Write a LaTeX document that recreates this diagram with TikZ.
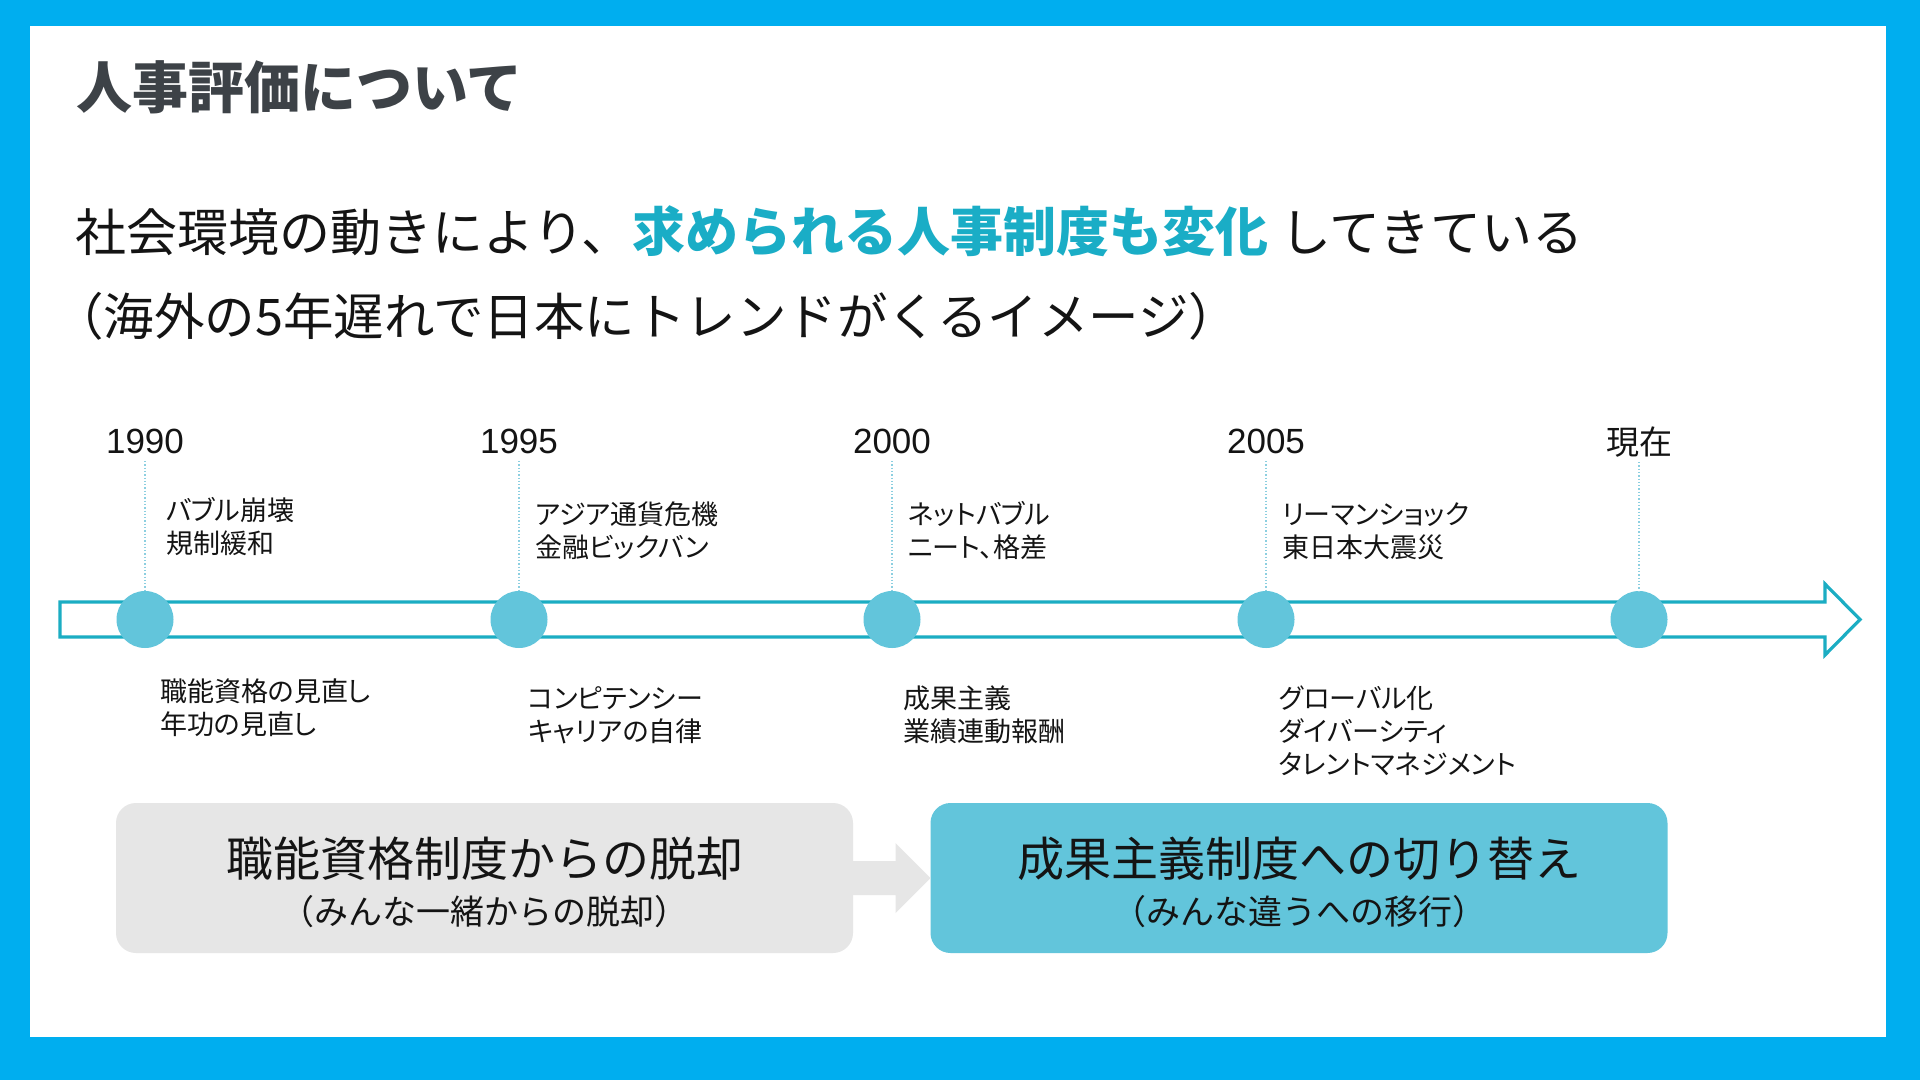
\documentclass[tikz,border=0pt]{standalone}
\usepackage{fontspec}
\setmainfont{Noto Sans CJK JP}
\newfontfamily\jpprop{Noto Sans CJK JP}[RawFeature=+palt]
\newfontfamily\latinfont{Liberation Sans}
\usetikzlibrary{calc}
\definecolor{frameblue}{HTML}{00AEEF}
\definecolor{tlline}{HTML}{1BADC3}
\definecolor{dotc}{HTML}{8CCFE0}
\definecolor{circc}{HTML}{62C5DB}
\definecolor{hl}{HTML}{1AADC6}
\definecolor{boxgray}{HTML}{E6E6E6}
\definecolor{titlegray}{HTML}{3D4247}
\definecolor{ink}{HTML}{141414}
\begin{document}
\begin{tikzpicture}[x=1pt,y=-1pt,
  every node/.style={inner sep=0pt,outer sep=0pt,text=ink},
  yearlbl/.style={anchor=base,font=\latinfont\fontsize{35}{38}\selectfont},
  evt/.style={anchor=base west,font=\jpprop\fontsize{27}{30}\selectfont},
  dot/.style={circle,fill=circc,minimum size=57pt},
  dotline/.style={draw=dotc,line width=1.3pt,dotted},
  bigbox/.style={rounded corners=20pt,minimum width=737pt,minimum height=150pt},
  boxmain/.style={anchor=base,font=\fontsize{47}{50}\selectfont},
  boxsub/.style={anchor=base,font=\fontsize{34}{36}\selectfont}]
\useasboundingbox (0,0) rectangle (1920,1080);
\fill[frameblue] (0,0) rectangle (1920,1080);
\fill[white] (30,26) rectangle (1886,1037);

% title and subtitle
\node[anchor=base west,font=\fontsize{56}{60}\selectfont\bfseries,text=titlegray] (title) at (76,108) {人事評価について};
\node[anchor=base west,font=\fontsize{51}{56}\selectfont] (sub1) at (75,251)
  {社会環境の動きにより、{\fontsize{53}{56}\selectfont\bfseries\color{hl}求められる人事制度も変化} してきている};
\node[anchor=base west,font=\fontsize{50.5}{56}\selectfont] (sub2) at (53,335)
  {（海外の5年遅れで日本にトレンドがくるイメージ）};

% timeline arrow
\draw[tlline,line width=3.2pt,fill=white,line join=miter]
  (60,602) -- (1825,602) -- (1825,584) -- (1860,619.5) -- (1825,655) -- (1825,637) -- (60,637) -- cycle;

% circles
\node[dot] (c1) at (145,619.5) {};
\node[dot] (c2) at (519,619.5) {};
\node[dot] (c3) at (892,619.5) {};
\node[dot] (c4) at (1266,619.5) {};
\node[dot] (c5) at (1639,619.5) {};

% year labels
\node[yearlbl] (y1) at (145,453) {1990};
\node[yearlbl] (y2) at (519,453) {1995};
\node[yearlbl] (y3) at (892,453) {2000};
\node[yearlbl] (y4) at (1266,453) {2005};
\node[anchor=base,font=\fontsize{33}{36}\selectfont] (y5) at (1639,454) {現在};

% dotted guides
\foreach \i in {1,...,5}{
  \draw[dotline] ([yshift=-8pt]y\i.base) -- (c\i.north);
}

% upper events
\node[evt] (u1a) at (166,520) {バブル崩壊};
\node[evt] (u1b) at (166,553) {規制緩和};
\node[evt] (u2a) at (535,524) {アジア通貨危機};
\node[evt] (u2b) at (535,557) {金融ビックバン};
\node[evt] (u3a) at (908,524) {ネットバブル};
\node[evt] (u3b) at (908,557) {ニート、格差};
\node[evt] (u4a) at (1282,524) {リーマンショック};
\node[evt] (u4b) at (1282,557) {東日本大震災};

% lower events
\node[evt] (l1a) at (160,701) {職能資格の見直し};
\node[evt] (l1b) at (160,734) {年功の見直し};
\node[evt] (l2a) at (528,708) {コンピテンシー};
\node[evt] (l2b) at (528,741) {キャリアの自律};
\node[evt] (l3a) at (903,708) {成果主義};
\node[evt] (l3b) at (903,741) {業績連動報酬};
\node[evt] (l4a) at (1279,708) {グローバル化};
\node[evt] (l4b) at (1279,741) {ダイバーシティ};
\node[evt] (l4c) at (1279,774) {タレントマネジメント};

% bottom boxes
\node[bigbox,fill=boxgray] (gbox) at (484.5,878) {};
\node[bigbox,fill=circc] (tbox) at (1299,878) {};
\fill[boxgray] ([yshift=17pt]gbox.east) -- ([xshift=-35pt,yshift=17pt]tbox.west)
  -- ([xshift=-35pt,yshift=35pt]tbox.west) -- (tbox.west)
  -- ([xshift=-35pt,yshift=-35pt]tbox.west) -- ([xshift=-35pt,yshift=-17pt]tbox.west)
  -- ([yshift=-17pt]gbox.east) -- cycle;

\node[boxmain] (g1) at (484.5,876) {職能資格制度からの脱却};
\node[boxsub] (g2) at (484.5,924) {（みんな一緒からの脱却）};
\node[boxmain] (t1) at (1299,876) {成果主義制度への切り替え};
\node[boxsub] (t2) at (1299,924) {（みんな違うへの移行）};
\end{tikzpicture}
\end{document}
